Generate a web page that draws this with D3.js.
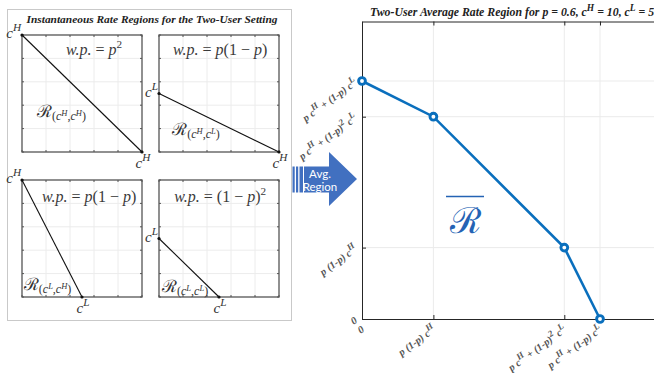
<!DOCTYPE html>
<html>
<head>
<meta charset="utf-8">
<script src="https://cdn.jsdelivr.net/npm/d3@7"></script>
<style>
  body { margin: 0; background: #fff; }
  svg { display: block; }
</style>
</head>
<body>
<svg width="654" height="373"></svg>
<script>
// ---- data ----
const panelTitle = "Instantaneous Rate Regions for the Two-User Setting";
const panelProbs = ["w.p. = p^2", "w.p. = p(1 − p)", "w.p. = p(1 − p)", "w.p. = (1 − p)^2"];
const panelRegions = ["HH", "HL", "LH", "LL"];
const panelRateX = [10, 10, 5, 5];   // user 1 rate (x intercept)
const panelRateY = [10, 5, 10, 5];   // user 2 rate (y intercept)
const panelXLabels = ["c^H", "c^H", "c^L", "c^L"];
const panelYLabels = ["c^H", "c^L", "c^H", "c^L"];
const panelGrid = [0, 2, 4, 6, 8, 10];

const avgTitle = "Two-User Average Rate Region for p = 0.6, c^H = 10, c^L = 5";
const avgX = [0, 2.4, 6.8, 8];
const avgY = [8, 6.8, 2.4, 0];
const tickValues = [0, 2.4, 6.8, 8];
const tickLabels = ["0", "p (1-p) c^H", "p c^H + (1-p)^2 c^L", "p c^H + (1-p) c^L"];

// ---- layout ----
const panelCols = [22, 159];
const panelRows = [35, 180];
const panelW = 120, panelH = 117;
const probPos = [[6.0, 8.3], [5.1, 8.3], [5.6, 8.1], [5.1, 8.1]];
const regionPos = [[1.25, 3.0], [1.1, 1.45], [0.15, 0.6], [0.25, 0.45]];

const svg = d3.select("svg");
const serif = "'Liberation Serif', 'Times New Roman', serif";

// writes text with ^X superscripts; math=true sets letters in italic
function rich(text, str, size, math, supScale = 0.72) {
    const parts = str.match(/\^.|[^^]/g);
    let raised = false;
    parts.forEach(tok => {
        if (tok[0] === "^" && tok.length === 2) {
            text.append("tspan").attr("dy", -size * 0.45).attr("font-size", size * supScale)
                .attr("font-style", math && /[a-zA-Z]/.test(tok[1]) ? "italic" : null)
                .text(tok[1]);
            raised = true;
        } else {
            const t = text.append("tspan").text(tok);
            if (raised) { t.attr("dy", size * 0.45); raised = false; }
            if (math) t.attr("font-style", /[a-zA-Z.]/.test(tok) ? "italic" : "normal");
        }
    });
    return text;
}

// ---- left panel ----
svg.append("rect")
    .attr("x", 7.5).attr("y", 9.5).attr("width", 284).attr("height", 311)
    .attr("fill", "#fff").attr("stroke", "#c9c9c9");

svg.append("text")
    .attr("x", 152).attr("y", 23)
    .attr("text-anchor", "middle")
    .attr("font-family", serif).attr("font-weight", "bold").attr("font-style", "italic")
    .attr("font-size", 11.4).attr("fill", "#222")
    .text(panelTitle);

panelProbs.forEach((prob, i) => {
    const x0 = panelCols[i % 2], y0 = panelRows[Math.floor(i / 2)];
    const sx = d3.scaleLinear().domain([0, 10]).range([x0, x0 + panelW]);
    const sy = d3.scaleLinear().domain([0, 10]).range([y0 + panelH, y0]);
    const g = svg.append("g");

    g.selectAll(".vg").data(panelGrid.slice(1, -1)).enter().append("line")
        .attr("x1", d => sx(d)).attr("x2", d => sx(d))
        .attr("y1", sy(0)).attr("y2", sy(10))
        .attr("stroke", "#ececec");
    g.selectAll(".hg").data(panelGrid.slice(1, -1)).enter().append("line")
        .attr("y1", d => sy(d)).attr("y2", d => sy(d))
        .attr("x1", sx(0)).attr("x2", sx(10))
        .attr("stroke", "#ececec");

    // inward tick marks on all four sides
    panelGrid.forEach(d => {
        [[sx(d), sy(0), sx(d), sy(0) - 2], [sx(d), sy(10), sx(d), sy(10) + 2],
         [sx(0), sy(d), sx(0) + 2, sy(d)], [sx(10), sy(d), sx(10) - 2, sy(d)]].forEach(s => {
            g.append("line").attr("x1", s[0]).attr("y1", s[1]).attr("x2", s[2]).attr("y2", s[3])
                .attr("stroke", "#555");
        });
    });

    g.append("rect")
        .attr("x", sx(0)).attr("y", sy(10))
        .attr("width", sx(10) - sx(0)).attr("height", sy(0) - sy(10))
        .attr("fill", "none").attr("stroke", "#555").attr("stroke-width", 1.3);

    g.append("line")
        .attr("x1", sx(0)).attr("y1", sy(panelRateY[i]))
        .attr("x2", sx(panelRateX[i])).attr("y2", sy(0))
        .attr("stroke", "#111").attr("stroke-width", 1.1);
    g.selectAll(".pt").data([[0, panelRateY[i]], [panelRateX[i], 0]]).enter().append("circle")
        .attr("cx", d => sx(d[0])).attr("cy", d => sy(d[1])).attr("r", 1.6).attr("fill", "#111");

    rich(g.append("text")
        .attr("x", sx(0) - 1).attr("y", sy(panelRateY[i]) + 3)
        .attr("text-anchor", "end").attr("font-family", serif)
        .attr("font-size", 15).attr("fill", "#333"), panelYLabels[i], 15, true, 0.75);
    rich(g.append("text")
        .attr("x", sx(panelRateX[i]) + 1).attr("y", sy(0) + 16)
        .attr("text-anchor", "middle").attr("font-family", serif)
        .attr("font-size", 15).attr("fill", "#333"), panelXLabels[i], 15, true, 0.75);

    rich(g.append("text")
        .attr("x", sx(probPos[i][0])).attr("y", sy(probPos[i][1]))
        .attr("text-anchor", "middle").attr("font-family", serif)
        .attr("font-size", 16).attr("fill", "#3a3a3a"), prob, 16, true, 0.7);

    const rt = g.append("text")
        .attr("x", sx(regionPos[i][0])).attr("y", sy(regionPos[i][1]))
        .attr("font-family", serif).attr("fill", "#333");
    rt.append("tspan").attr("font-size", 17).attr("font-family", "'DejaVu Serif', serif").text("ℛ");
    rt.append("tspan").attr("font-size", 12).attr("dy", 3).text("(");
    rt.append("tspan").attr("font-size", 12).attr("font-style", "italic").text("c");
    rt.append("tspan").attr("font-size", 8.5).attr("dy", -4).attr("font-style", "italic").text(panelRegions[i][0]);
    rt.append("tspan").attr("font-size", 12).attr("dy", 4).text(",");
    rt.append("tspan").attr("font-size", 12).attr("font-style", "italic").text("c");
    rt.append("tspan").attr("font-size", 8.5).attr("dy", -4).attr("font-style", "italic").text(panelRegions[i][1]);
    rt.append("tspan").attr("font-size", 12).attr("dy", 4).text(")");
});

// ---- arrow ----
const arrow = svg.append("g");
arrow.append("path")
    .attr("d", "M304,166.5 L329,166.5 L329,152 L357,179 L329,206 L329,192.5 L304,192.5 Z")
    .attr("fill", "#4170c0");
[[292.5, 2.2], [296, 2.2], [299.5, 3.5]].forEach(s => {
    arrow.append("rect").attr("x", s[0]).attr("y", 166.5).attr("width", s[1]).attr("height", 26)
        .attr("fill", "#4170c0");
});
arrow.append("text").attr("x", 320).attr("y", 177.5).attr("text-anchor", "middle")
    .attr("font-family", "Lato, 'Open Sans', sans-serif").attr("font-size", 11.5).attr("fill", "#fff")
    .text("Avg.");
arrow.append("text").attr("x", 320).attr("y", 191).attr("text-anchor", "middle")
    .attr("font-family", "Lato, 'Open Sans', sans-serif").attr("font-size", 11.5).attr("fill", "#fff")
    .text("Region");

// ---- average rate region ----
const x = d3.scaleLinear().domain([0, 10]).range([362, 659.5]);
const y = d3.scaleLinear().domain([0, 10]).range([319, 21.5]);
const chart = svg.append("g");

chart.selectAll(".gx").data(tickValues.slice(1)).enter().append("line")
    .attr("x1", d => x(d)).attr("x2", d => x(d)).attr("y1", y(0)).attr("y2", y(10))
    .attr("stroke", "#ebebeb");
chart.selectAll(".gy").data(tickValues.slice(1)).enter().append("line")
    .attr("y1", d => y(d)).attr("y2", d => y(d)).attr("x1", x(0)).attr("x2", x(10))
    .attr("stroke", "#ebebeb");

const axisStyle = g => {
    g.selectAll("path, line").attr("stroke", "#262626");
    g.selectAll("text").remove();
};
chart.append("g").attr("transform", `translate(0,${y(0)})`)
    .call(d3.axisBottom(x).tickValues(tickValues).tickSizeInner(-4).tickSizeOuter(0)).call(axisStyle);
chart.append("g").attr("transform", `translate(0,${y(10)})`)
    .call(d3.axisTop(x).tickValues(tickValues).tickSizeInner(-4).tickSizeOuter(0)).call(axisStyle);
chart.append("g").attr("transform", `translate(${x(0)},0)`)
    .call(d3.axisLeft(y).tickValues(tickValues).tickSizeInner(-4).tickSizeOuter(0)).call(axisStyle);

const tickFont = g => g.attr("font-family", serif).attr("font-weight", "bold")
    .attr("font-style", "italic").attr("font-size", 10.5).attr("fill", "#555").attr("text-anchor", "end");

tickValues.forEach((v, i) => {
    rich(chart.append("text").call(tickFont)
        .attr("transform", `translate(${x(v) + 3},${y(0) + 12}) rotate(-36)`), tickLabels[i], 10.5, false, 0.85);
    rich(chart.append("text").call(tickFont)
        .attr("transform", `translate(${x(0) - 4},${y(v) + 3}) rotate(-36)`), tickLabels[i], 10.5, false, 0.85);
});

const line = d3.line().x(d => x(d[0])).y(d => y(d[1]));
const pts = avgX.map((v, i) => [v, avgY[i]]);
chart.append("path").datum(pts).attr("d", line)
    .attr("fill", "none").attr("stroke", "#0a6fbd").attr("stroke-width", 2.6);
chart.selectAll(".mk").data(pts).enter().append("circle")
    .attr("cx", d => x(d[0])).attr("cy", d => y(d[1])).attr("r", 3.4)
    .attr("fill", "#fff").attr("stroke", "#0a6fbd").attr("stroke-width", 2.9);

chart.append("text").attr("x", 465).attr("y", 233).attr("text-anchor", "middle")
    .attr("font-family", "'DejaVu Serif', serif").attr("font-size", 36).attr("fill", "#2463b4")
    .text("ℛ");
chart.append("line").attr("x1", 446).attr("x2", 484).attr("y1", 196.5).attr("y2", 196.5)
    .attr("stroke", "#2463b4").attr("stroke-width", 1.6);

rich(svg.append("text").attr("x", 512).attr("y", 16).attr("text-anchor", "middle")
    .attr("font-family", serif).attr("font-weight", "bold").attr("font-style", "italic")
    .attr("font-size", 11.8).attr("fill", "#222"), avgTitle, 11.8, false, 0.8);
</script>
</body>
</html>
